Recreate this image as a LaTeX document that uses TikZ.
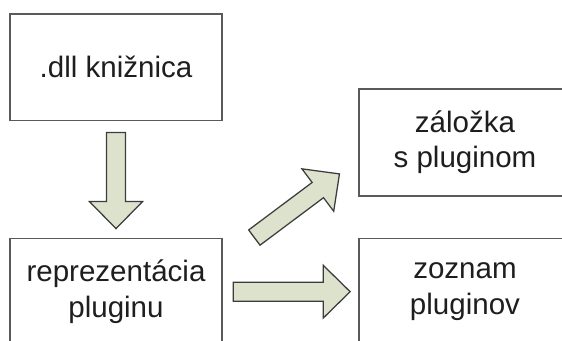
\documentclass[tikz,border=0pt]{standalone}
\usepackage{fontspec}
\setmainfont{Liberation Sans}

\definecolor{boxgray}{RGB}{90,90,90}
\definecolor{arrowgray}{RGB}{60,60,60}
\definecolor{arrowfill}{RGB}{221,226,204}
\definecolor{textgray}{RGB}{30,30,30}

\tikzset{
  blok/.style={draw=boxgray, line width=1pt, minimum width=5.3cm, minimum height=2.67cm,
    align=center, text=textgray, font=\fontsize{21}{25}\selectfont},
  sipka/.style={draw=arrowgray, fill=arrowfill, line width=0.9pt, line join=miter},
}
% block arrow: tail, angle, length
\newcommand{\hrubasipka}[3]{%
  \begin{scope}[shift={(#1)}, rotate=#2]
    \draw[sipka] (0,-9.5) -- ({#3-27},-9.5) -- ({#3-27},-26.5) -- (#3,0)
      -- ({#3-27},26.5) -- ({#3-27},9.5) -- (0,9.5) -- cycle;
  \end{scope}}

\begin{document}
\begin{tikzpicture}[x=0.025cm,y=0.025cm]
   \useasboundingbox (0,0) rectangle (562,341);
   \clip (0,0) rectangle (562,341);
   \node[blok] (dll) at (116,273.7) {.dll knižnica};
   \node[blok] (plugin) at (116,49.3) {reprezentácia\\pluginu};
   \node[blok] (zalozka) at (465,198.5) {záložka\\s pluginom};
   \node[blok] (zoznam) at (465,49.3) {zoznam\\pluginov};
   \coordinate (dolu) at ([yshift=-0.28cm]dll.south);
   \coordinate (vpravo) at ([xshift=0.26cm]plugin.east);
   \coordinate (sikmo) at ([xshift=0.79cm]plugin.north east);
   \hrubasipka{dolu}{-90}{96}
   \hrubasipka{vpravo}{0}{117}
   \hrubasipka{sikmo}{36.8}{106.3}
\end{tikzpicture}
\end{document}
